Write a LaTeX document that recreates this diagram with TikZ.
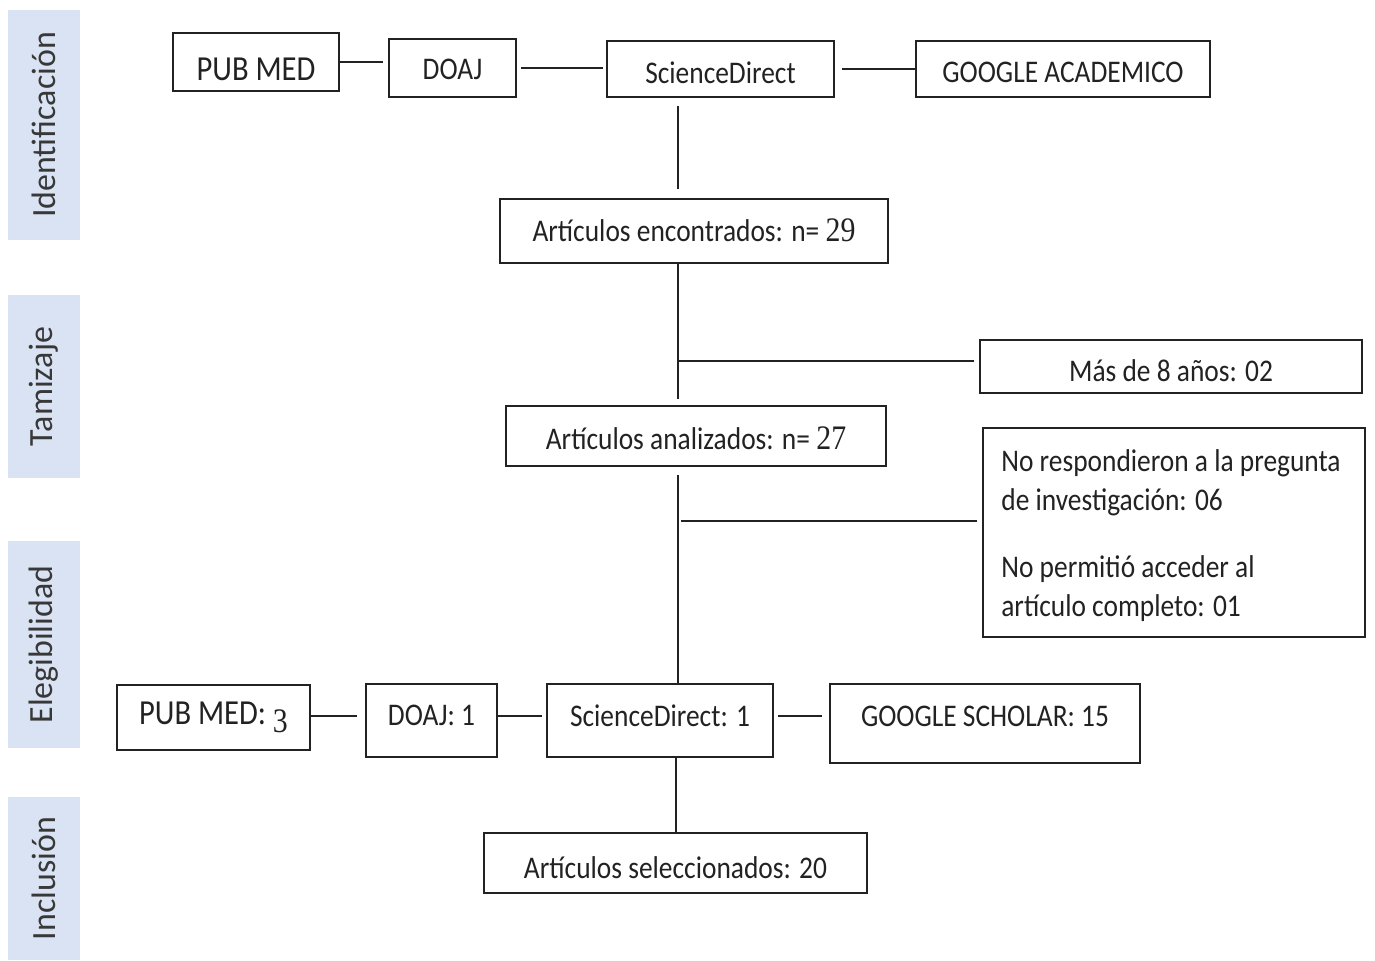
\documentclass[tikz,border=0pt]{standalone}
\usepackage{fontspec}
\setmainfont{Carlito}
\newfontfamily\serifnum{Liberation Serif}
\usepackage{graphicx}
\definecolor{bandblue}{HTML}{DAE3F3}
\definecolor{ink}{HTML}{222222}
\newcommand{\vs}[1]{\scalebox{1}[1.15]{#1}}
\begin{document}
\begin{tikzpicture}[x=0.02cm,y=-0.02cm,
  bx/.style 2 args={draw=ink, line width=1.1pt, rectangle, inner sep=0pt,
    minimum width=#1*0.02cm, minimum height=#2*0.02cm},
  tx/.style={text=ink, inner sep=0pt, font=\fontsize{15.6}{19.7}\selectfont},
  txb/.style={text=ink, inner sep=0pt, font=\fontsize{17.4}{21}\selectfont},
  band/.style={fill=bandblue, rectangle, rotate=90, inner sep=0pt,
    minimum width=#1*0.02cm, minimum height=72*0.02cm,
    text=ink!90, font=\fontsize{19.3}{23}\selectfont},
  ln/.style={draw=ink, line width=1.1pt}]
\useasboundingbox (0,0) rectangle (1375,960);

% phase bands
\node[band=230] (b1) at (44,125) {Identificación};
\node[band=183] (b2) at (44,386.5) {Tamizaje};
\node[band=207] (b3) at (44,644.5) {Elegibilidad};
\node[band=163] (b4) at (44,878.5) {Inclusión};

% top row
\node[bx={166}{58}, label={[txb,name=t1,yshift=-7*0.567pt]center:\vs{PUB MED}}] (pm1) at (256,62) {};
\node[bx={127}{58}, label={[tx,name=t2,yshift=-1*0.567pt]center:\vs{DOAJ}}] (doaj1) at (452.5,68) {};
\node[bx={227}{56}, label={[tx,name=t3,yshift=-4*0.567pt]center:\vs{ScienceDirect}}] (sd1) at (720.5,69) {};
\node[bx={294}{56}, label={[tx,name=t4,yshift=-3*0.567pt]center:\vs{GOOGLE ACADEMICO}}] (ga) at (1063,69) {};

% middle
\node[bx={388}{64}, label={[tx,name=t5,yshift=1*0.567pt]center:\vs{Artículos encontrados: n= {\serifnum\fontsize{17}{19}\selectfont 29}}}] (enc) at (694,231) {};
\node[bx={382}{53}, label={[tx,name=t6,yshift=-4.5*0.567pt]center:\vs{Más de 8 años: 02}}] (mas) at (1171,366.5) {};
\node[bx={380}{60}, label={[tx,name=t7,yshift=-2*0.567pt]center:\vs{Artículos analizados: n= {\serifnum\fontsize{17}{19}\selectfont 27}}}] (ana) at (696,436) {};
\node[bx={382}{209}] (nor) at (1174,532.5) {};
\node[tx, anchor=west] (nort) at (1001,536) {\vs{\begin{tabular}{@{}l@{}}No respondieron a la pregunta\\ de investigación: 06\\[13pt] No permitió acceder al\\ artículo completo: 01\end{tabular}}};

% bottom row
\node[bx={193}{65}, label={[txb,name=t8,yshift=0*0.567pt]center:\vs{PUB MED: \raisebox{-0.22em}{\serifnum\fontsize{17}{19}\selectfont 3}}}] (pm2) at (213.5,717.5) {};
\node[bx={131}{73}, label={[tx,name=t9,yshift=5*0.567pt]center:\vs{DOAJ: 1}}] (doaj2) at (431.5,720.5) {};
\node[bx={226}{73}, label={[tx,name=t10,yshift=5*0.567pt]center:\vs{ScienceDirect: 1}}] (sd2) at (660,720.5) {};
\node[bx={310}{79}, label={[tx,name=t11,yshift=7.5*0.567pt]center:\vs{GOOGLE SCHOLAR: 15}}] (gs) at (985,723.5) {};
\node[bx={383}{60}, label={[tx,name=t12,yshift=-4.5*0.567pt]center:\vs{Artículos seleccionados: 20}}] (sel) at (675.5,863) {};

% connectors
\coordinate (vx) at (678,0);
\coordinate (vx2) at (676,0);
\coordinate (j1) at (678,361);
\coordinate (j2) at (678,521);
\coordinate (hb) at (0,716);

\draw[ln, shorten >=5*0.02cm] (pm1.east) -- (pm1.east -| doaj1.west);
\draw[ln, shorten <=4*0.02cm, shorten >=3*0.02cm] (doaj1.east) -- (doaj1.east -| sd1.west);
\draw[ln, shorten <=7*0.02cm] (sd1.east) -- (ga.west);
\draw[ln, shorten <=8*0.02cm, shorten >=9*0.02cm] (vx |- sd1.south) -- (vx |- enc.north);
\draw[ln, shorten >=6*0.02cm] (vx |- enc.south) -- (vx |- ana.north);
\draw[ln, shorten >=5*0.02cm] (j1) -- (j1 -| mas.west);
\draw[ln, shorten <=8*0.02cm] (vx |- ana.south) -- (vx |- sd2.north);
\draw[ln, shorten <=3*0.02cm, shorten >=5*0.02cm] (j2) -- (j2 -| nor.west);
\draw[ln] (vx2 |- sd2.south) -- (vx2 |- sel.north);
\draw[ln, shorten >=8*0.02cm] (hb -| pm2.east) -- (hb -| doaj2.west);
\draw[ln, shorten >=4*0.02cm] (hb -| doaj2.east) -- (hb -| sd2.west);
\draw[ln, shorten <=4*0.02cm, shorten >=7*0.02cm] (hb -| sd2.east) -- (hb -| gs.west);
\end{tikzpicture}
\end{document}
